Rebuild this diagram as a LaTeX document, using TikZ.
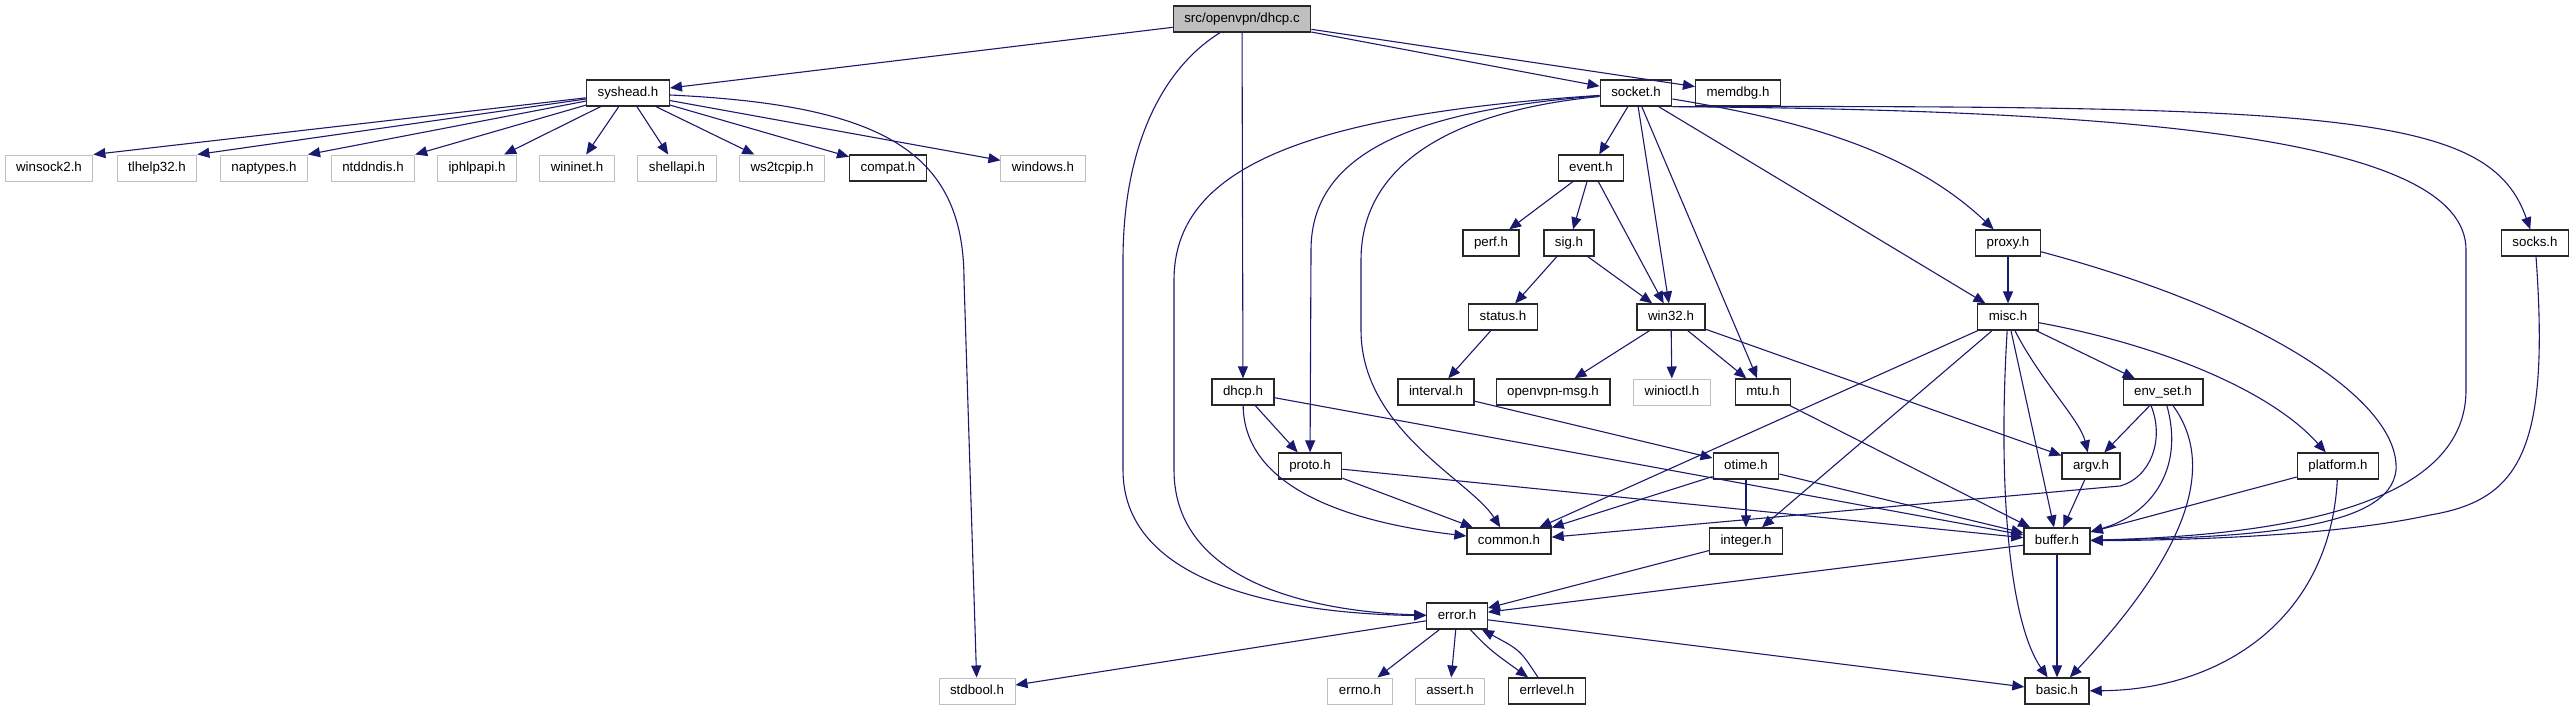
\documentclass[tikz,border=0pt]{standalone}
\usepackage{tikz}
\usepackage{xcolor}
\usepackage{fontspec}
\setmainfont{Liberation Sans}
\usetikzlibrary{arrows.meta,positioning,calc}
\definecolor{edgeblue}{RGB}{25,25,112}
\definecolor{rootgray}{RGB}{191,191,191}
\definecolor{sysgray}{RGB}{191,191,191}
\definecolor{boxblack}{RGB}{40,40,40}
\tikzset{
  hdr/.style={rectangle, draw=boxblack, fill=white, line width=1.3pt,
    inner xsep=11pt, inner ysep=0pt, minimum height=26pt,
    text height=9.8pt, text depth=3pt, font=\fontsize{13.3}{16}\selectfont},
  syshdr/.style={hdr, draw=sysgray, line width=1pt},
  roothdr/.style={hdr, fill=rootgray},
  arr/.style={-{Triangle[length=12pt,width=10pt]}, line width=1.1pt, color=edgeblue}
}

\begin{document}
\begin{tikzpicture}[x=1pt, y=-1pt]
\useasboundingbox (0,0) rectangle (2571,709);

%% Source file
\node[roothdr] (dhcpc) at (1242,19) {src/openvpn/dhcp.c};

%% Headers
\node[hdr] (syshead) at (628,93)  {syshead.h};
\node[hdr] (socket)  at (1636,93) {socket.h};
\node[hdr] (memdbg)  at (1738,93) {memdbg.h};

\node[syshdr] (winsock)  at (49,168)  {winsock2.h};
\node[syshdr] (tlhelp)   at (157,168) {tlhelp32.h};
\node[syshdr] (naptypes) at (264,168) {naptypes.h};
\node[syshdr] (ntddndis) at (373,168) {ntddndis.h};
\node[syshdr] (iphlpapi) at (477,168) {iphlpapi.h};
\node[syshdr] (wininet)  at (577,168) {wininet.h};
\node[syshdr] (shellapi) at (677,168) {shellapi.h};
\node[syshdr] (wstcpip)  at (782,168) {ws2tcpip.h};
\node[hdr]    (compat)   at (888,168) {compat.h};
\node[syshdr] (windows)  at (1043,168) {windows.h};
\node[hdr]    (event)    at (1591,168) {event.h};

\node[hdr] (perf)  at (1491,243) {perf.h};
\node[hdr] (sig)   at (1569,243) {sig.h};
\node[hdr] (proxy) at (2008,243) {proxy.h};
\node[hdr] (socks) at (2535,243) {socks.h};

\node[hdr] (status) at (1503,317) {status.h};
\node[hdr] (win32)  at (1671,317) {win32.h};
\node[hdr] (misc)   at (2008,317) {misc.h};

\node[hdr]    (dhcph)    at (1243,392) {dhcp.h};
\node[hdr]    (interval) at (1436,392) {interval.h};
\node[hdr]    (ovpnmsg)  at (1553,392) {openvpn-msg.h};
\node[syshdr] (winioctl) at (1672,392) {winioctl.h};
\node[hdr]    (mtu)      at (1763,392) {mtu.h};
\node[hdr]    (envset)   at (2163,392) {env\_set.h};

\node[hdr] (proto)    at (1310,466) {proto.h};
\node[hdr] (otime)    at (1746,466) {otime.h};
\node[hdr] (argv)     at (2091,466) {argv.h};
\node[hdr] (platform) at (2338,466) {platform.h};

\node[hdr] (common)  at (1509,541) {common.h};
\node[hdr] (integer) at (1746,541) {integer.h};
\node[hdr] (buffer)  at (2057,541) {buffer.h};

\node[hdr] (error) at (1457,616) {error.h};

\node[syshdr] (stdbool)  at (977,691)  {stdbool.h};
\node[syshdr] (errno)    at (1360,691) {errno.h};
\node[syshdr] (assert)   at (1450,691) {assert.h};
\node[hdr]    (errlevel) at (1547,691) {errlevel.h};
\node[hdr]    (basic)    at (2057,691) {basic.h};

%% dhcp.c includes
\draw[arr] (dhcpc)--(syshead);
\draw[arr] (dhcpc)--(socket);
\draw[arr] (dhcpc)--(memdbg);
\draw[arr] (dhcpc)--(dhcph);
\draw[arr] (dhcpc) .. controls (1160,70) and (1123,150) .. (1123,260)
  -- (1123,470) .. controls (1123,590) and (1300,614) .. (error);

%% syshead.h
\draw[arr] (syshead)--(winsock.north east);
\draw[arr] (syshead)--(tlhelp.north east);
\draw[arr] (syshead)--(naptypes.north east);
\draw[arr] (syshead)--(ntddndis.north east);
\draw[arr] (syshead)--(iphlpapi);
\draw[arr] (syshead)--(wininet);
\draw[arr] (syshead)--(shellapi);
\draw[arr] (syshead)--(wstcpip);
\draw[arr] (syshead)--(compat);
\draw[arr] (syshead)--(windows);
\draw[arr] (syshead) .. controls (880,105) and (964,150) .. (964,280)
  -- (stdbool);

%% socket.h
\draw[arr] (socket)--(event);
\draw[arr] (socket)--(win32);
\draw[arr] (socket)--(mtu);
\draw[arr] (socket)--(misc);
\draw[arr] (socket) .. controls (1300,115) and (1174,170) .. (1174,280)
  -- (1174,470) .. controls (1174,585) and (1320,612) .. (error);
\draw[arr] (socket) .. controls (1420,110) and (1311,150) .. (1311,250)
  -- (proto);
\draw[arr] (socket) .. controls (1460,110) and (1361,160) .. (1361,260)
  -- (1361,330) .. controls (1361,430) and (1470,480) .. (common);
\draw[arr] (socket) .. controls (1800,120) and (1910,150) .. (proxy);
\draw[arr] (socket.south east) .. controls (2150,110) and (2466,140) .. (2466,250)
  -- (2466,390) .. controls (2466,500) and (2300,535) .. (buffer);
\draw[arr] (socket.south east) .. controls (2350,105) and (2490,115) .. (socks);

%% event / signal chain
\draw[arr] (event)--(perf);
\draw[arr] (event)--(sig);
\draw[arr] (event)--(win32);
\draw[arr] (sig)--(status);
\draw[arr] (sig)--(win32);
\draw[arr] (status)--(interval);
\draw[arr] (interval)--(otime);

%% win32.h
\draw[arr] (win32)--(ovpnmsg);
\draw[arr] (win32)--(winioctl);
\draw[arr] (win32)--(mtu);
\draw[arr] (win32)--(argv);

%% dhcp.h / proto.h
\draw[arr] (dhcph)--(proto);
\draw[arr] (dhcph)--(buffer);
\draw[arr] (dhcph) .. controls (1244,480) and (1330,520) .. (common);
\draw[arr] (proto)--(common);
\draw[arr] (proto)--(buffer);

%% proxy.h / socks.h
\draw[arr] (proxy)--(misc);
\draw[arr] (proxy) .. controls (2260,310) and (2400,400) .. (2396,470)
  .. controls (2390,530) and (2250,537) .. (buffer);
\draw[arr] (socks) .. controls (2550,450) and (2520,500) .. (2430,515)
  .. controls (2340,535) and (2200,540) .. (buffer);

%% misc.h
\draw[arr] (misc)--(envset);
\draw[arr] (misc)--(common);
\draw[arr] (misc)--(integer);
\draw[arr] (misc)--(buffer);
\draw[arr] (misc) .. controls (2040,380) and (2080,420) .. (argv);
\draw[arr] (misc) .. controls (2160,345) and (2270,390) .. (platform);
\draw[arr] (misc) .. controls (1998,480) and (2008,620) .. (basic);

%% env_set.h
\draw[arr] (envset)--(argv);
\draw[arr] (envset) .. controls (2185,470) and (2150,515) .. (buffer);
\draw[arr] (envset) .. controls (2220,470) and (2180,560) .. (basic);
\draw[arr] ([xshift=-12pt]envset.south) .. controls (2165,440) and (2150,478) .. (2120,486)
  -- (common);

%% lower headers
\draw[arr] (mtu)--(buffer);
\draw[arr] (otime)--(common);
\draw[arr] (otime)--(integer);
\draw[arr] (otime)--(buffer);
\draw[arr] (argv)--(buffer);
\draw[arr] (platform)--(buffer);
\draw[arr] (platform) .. controls (2330,620) and (2220,690) .. (basic);
\draw[arr] (integer)--(error);
\draw[arr] (buffer)--(error);
\draw[arr] (buffer)--(basic);

%% error.h
\draw[arr] (error)--(stdbool);
\draw[arr] (error)--(errno);
\draw[arr] (error)--(assert);
\draw[arr] (error)--(basic);
\draw[arr] (error) .. controls (1490,650) .. (errlevel);
\draw[arr] (errlevel) .. controls (1520,650) .. ([xshift=-6pt]error.south east);

\end{tikzpicture}
\end{document}
